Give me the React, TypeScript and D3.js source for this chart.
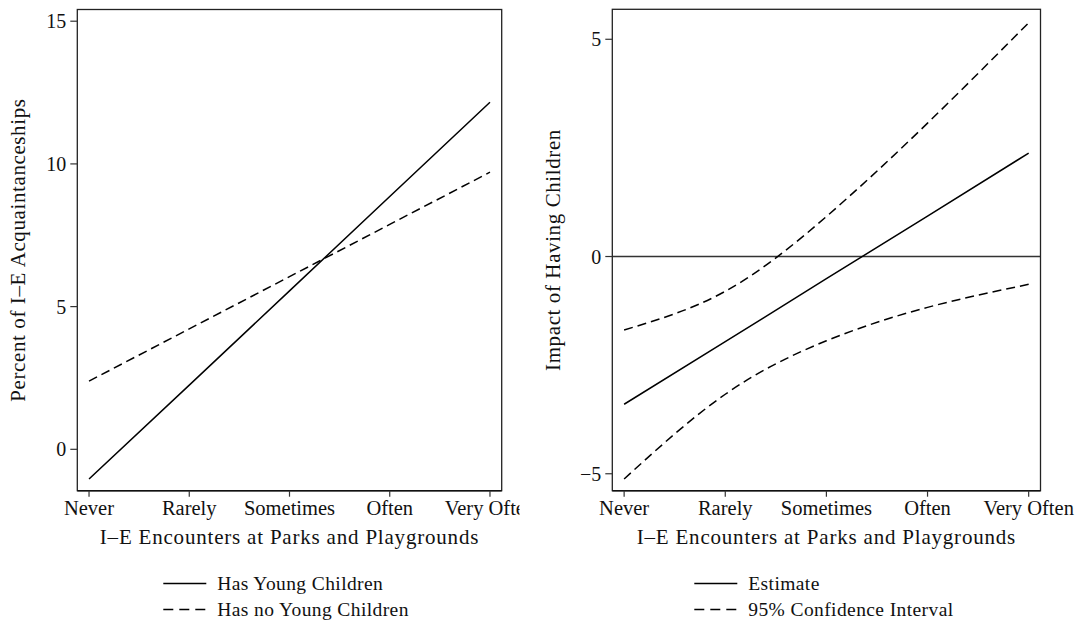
import React from "react";
import * as d3 from "d3";

const categories = ["Never", "Rarely", "Sometimes", "Often", "Very Often"];

// Left panel: predicted percent of I-E acquaintanceships
const hasYoungChildren = [-1.04, 2.25, 5.55, 8.86, 12.16];
const hasNoYoungChildren = [2.39, 4.22, 6.05, 7.88, 9.71];
const leftTicks = [0, 5, 10, 15];

// Right panel: impact of having children
const estimate = [-3.4, -1.96, -0.51, 0.93, 2.38];
const upperCI = [-1.69, -0.8, 0.92, 3.07, 5.38];
const lowerCI = [-5.12, -3.17, -1.94, -1.17, -0.64];
const rightTicks = [-5, 0, 5];

const FONT = "'Liberation Serif', 'Times New Roman', serif";
const DASH = "9,5";

type Series = { values: number[]; dashed: boolean; curve: d3.CurveFactory };

function Panel(props: {
  left: number;
  right: number;
  top: number;
  bottom: number;
  yDomain: [number, number];
  yTicks: number[];
  series: Series[];
  yTitle: string;
  legend: { label: string; dashed: boolean }[];
  legendX: number;
  zeroLine?: boolean;
  clipRight?: number;
  id: string;
}) {
  const { left, right, top, bottom, yDomain, yTicks, series, yTitle, legend, legendX, zeroLine, clipRight, id } = props;
  const pad = 0.117;
  const x = d3.scaleLinear().domain([-pad, categories.length - 1 + pad]).range([left, right]);
  const y = d3.scaleLinear().domain(yDomain).range([bottom, top]);
  const cx = (left + right) / 2;
  const cy = (top + bottom) / 2;
  return (
    <g clipPath={clipRight ? `url(#${id})` : undefined}>
      {clipRight ? (
        <defs>
          <clipPath id={id}>
            <rect x={0} y={0} width={clipRight} height={625} />
          </clipPath>
        </defs>
      ) : null}
      {zeroLine ? (
        <line x1={left} x2={right} y1={y(0)} y2={y(0)} stroke="#333" strokeWidth={1.4} />
      ) : null}
      {series.map((s, i) => {
        const line = d3
          .line<number>()
          .x((_, j) => x(j))
          .y((v) => y(v))
          .curve(s.curve);
        return (
          <path
            key={i}
            d={line(s.values) || ""}
            fill="none"
            stroke="#000"
            strokeWidth={1.5}
            strokeDasharray={s.dashed ? DASH : undefined}
          />
        );
      })}
      <rect x={left} y={top} width={right - left} height={bottom - top} fill="none" stroke="#222" strokeWidth={1.3} />
      <line x1={left} x2={right} y1={bottom} y2={bottom} stroke="#111" strokeWidth={1.6} />
      {categories.map((c, i) => (
        <g key={c}>
          <line x1={x(i)} x2={x(i)} y1={bottom} y2={bottom + 6} stroke="#333" strokeWidth={1.2} />
          <text x={x(i)} y={515} textAnchor="middle" fontSize={20.5} fontFamily={FONT} fill="#111">
            {c}
          </text>
        </g>
      ))}
      {yTicks.map((t) => (
        <g key={t}>
          <line x1={left - 7} x2={left} y1={y(t)} y2={y(t)} stroke="#333" strokeWidth={1.2} />
          <text
            x={left - 11}
            y={y(t) + 7}
            textAnchor="end"
            fontSize={20}
            fontFamily={FONT}
            fill="#111"
          >
            {t < 0 ? "\u2212" + Math.abs(t) : t}
          </text>
        </g>
      ))}
      <text x={cx} y={544} textAnchor="middle" fontSize={21} letterSpacing={0.8} fontFamily={FONT} fill="#111">
        I–E Encounters at Parks and Playgrounds
      </text>
      <text
        transform={`translate(${left - 52},${cy}) rotate(-90)`}
        textAnchor="middle"
        fontSize={21}
        letterSpacing={0.6}
        fontFamily={FONT}
        fill="#111"
      >
        {yTitle}
      </text>
      {legend.map((l, i) => {
        const ly = 583.5 + i * 26;
        return (
          <g key={l.label}>
            <line
              x1={legendX}
              x2={legendX + 43}
              y1={ly}
              y2={ly}
              stroke="#000"
              strokeWidth={1.5}
              strokeDasharray={l.dashed ? "10,6" : undefined}
            />
            <text x={legendX + 54} y={ly + 6.5} fontSize={19.5} letterSpacing={0.4} fontFamily={FONT} fill="#111">
              {l.label}
            </text>
          </g>
        );
      })}
    </g>
  );
}

export default function App() {
  return (
    <svg
      width={1081}
      height={625}
      viewBox="0 0 1081 625"
      style={{ position: "absolute", left: 0, top: 0, background: "#fff" }}
    >
      <rect x={0} y={0} width={1081} height={625} fill="#fff" />
      <Panel
        id="clipLeft"
        left={77.3}
        right={501.7}
        top={9.5}
        bottom={490.7}
        yDomain={[-1.45, 15.41]}
        yTicks={leftTicks}
        series={[
          { values: hasYoungChildren, dashed: false, curve: d3.curveLinear },
          { values: hasNoYoungChildren, dashed: true, curve: d3.curveLinear },
        ]}
        yTitle="Percent of I–E Acquaintanceships"
        legend={[
          { label: "Has Young Children", dashed: false },
          { label: "Has no Young Children", dashed: true },
        ]}
        legendX={163.3}
        clipRight={519.5}
      />
      <Panel
        id="clipRight"
        left={612.3}
        right={1040.5}
        top={9.3}
        bottom={490.7}
        yDomain={[-5.39, 5.69]}
        yTicks={rightTicks}
        series={[
          { values: estimate, dashed: false, curve: d3.curveLinear },
          { values: upperCI, dashed: true, curve: d3.curveNatural },
          { values: lowerCI, dashed: true, curve: d3.curveNatural },
        ]}
        yTitle="Impact of Having Children"
        legend={[
          { label: "Estimate", dashed: false },
          { label: "95% Confidence Interval", dashed: true },
        ]}
        legendX={694.3}
        zeroLine
      />
    </svg>
  );
}
